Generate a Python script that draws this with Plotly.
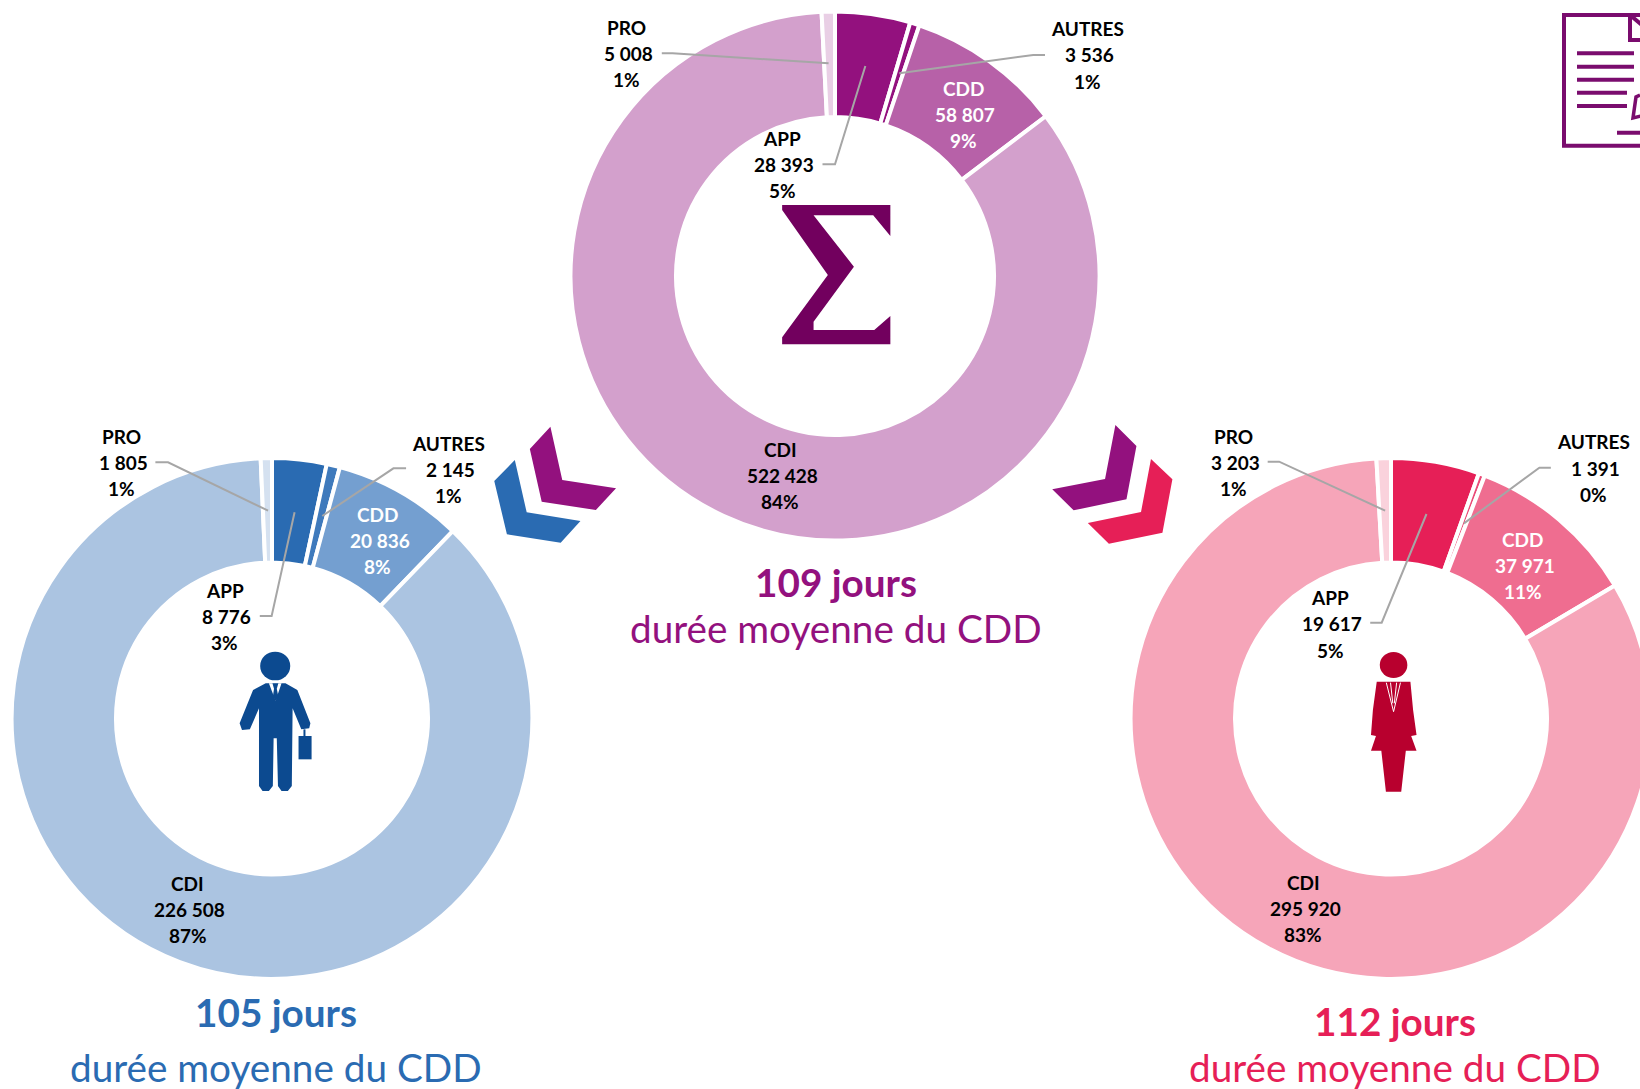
import plotly.graph_objects as go

W, H = 1660, 1089

# ---------- data ----------
categories = ["APP", "AUTRES", "CDD", "CDI", "PRO"]
total_values = [28393, 3536, 58807, 522428, 5008]
total_pct = ["5%", "1%", "9%", "84%", "1%"]
men_values = [8776, 2145, 20836, 226508, 1805]
men_pct = ["3%", "1%", "8%", "87%", "1%"]
women_values = [19617, 1391, 37971, 295920, 3203]
women_pct = ["5%", "0%", "11%", "83%", "1%"]
heading_days = ["109 jours", "105 jours", "112 jours"]
heading_sub = "durée moyenne du CDD"

# ---------- styles ----------
PURPLE = "#93117E"
BLUE = "#2A6BB2"
PINK = "#E61F57"
total_colors = [PURPLE, "#93117E", "#B761A8", "#D3A0CC", "#E9CFE5"]
men_colors = [BLUE, "#3F7ABC", "#749FD0", "#ABC4E1", "#D5E1F0"]
women_colors = [PINK, "#EA4A77", "#EF6D90", "#F6A5B9", "#FAD2DC"]
FONT = "Lato"
GREY = "#A6A6A6"
LINE = 4
LEADING = 26.1


def px(x, y):
    return x / W, 1 - y / H


def poly(points, close=True):
    parts = []
    for i, (x, y) in enumerate(points):
        a, b = px(x, y)
        parts.append(("M" if i == 0 else "L") + f"{a:.5f},{b:.5f}")
    return " ".join(parts) + (" Z" if close else "")


def zoomed(points, sx, ox, oy):
    return [(p[0] / sx + ox, p[1] / 3 + oy) for p in points]


fig = go.Figure()


def donut(values, colors, cx, cy, R, R_in):
    r = R + LINE / 2
    x0, y1 = px(cx - r, cy - r)
    x1, y0 = px(cx + r, cy + r)
    fig.add_trace(go.Pie(
        labels=categories, values=values, sort=False, direction="clockwise",
        rotation=0, hole=(R_in - LINE / 2) / r, textinfo="none", showlegend=False,
        domain=dict(x=[x0, x1], y=[y0, y1]),
        marker=dict(colors=colors, line=dict(color="white", width=LINE)),
    ))


donut(total_values, total_colors, 835, 276, 262.5, 161)
donut(men_values, men_colors, 272, 718.5, 258.4, 158)
donut(women_values, women_colors, 1391, 718.5, 258.4, 158)

annotations = []
shapes = []


def text(x, y, s, color="black", size=19, bold=True):
    a, b = px(x, y)
    annotations.append(dict(
        x=a, y=b, xref="paper", yref="paper", text=s, showarrow=False,
        xanchor="center", yanchor="middle", align="center",
        font=dict(family=FONT, size=size, color=color, weight=700 if bold else 400),
    ))


def labels(values, pct, pos):
    for i, c in enumerate(categories):
        v = f"{values[i]:,}".replace(",", " ")
        col = "white" if c == "CDD" else "black"
        x, y = pos[c]
        text(x, y - LEADING - 0.5, c, col)
        text(x + 2, y - 0.5, v, col)
        text(x, y + LEADING - 0.5, pct[i], col)


S = 1640 / 1568
labels(total_values, total_pct, {
    "PRO": (599 * S, 52 * S), "AUTRES": (1040 * S, 53 * S), "APP": (748 * S, 158 * S),
    "CDD": (921 * S, 110 * S), "CDI": (746 * S, 455 * S)})
labels(men_values, men_pct, {
    "PRO": (116 * S, 443 * S), "AUTRES": (429 * S, 449 * S), "APP": (215 * S, 590 * S),
    "CDD": (361 * S, 517 * S), "CDI": (179.5 * S, 870 * S)})
labels(women_values, women_pct, {
    "PRO": (1179 * S, 443 * S), "AUTRES": (1524 * S, 448 * S), "APP": (1272 * S, 597 * S),
    "CDD": (1456 * S, 541 * S), "CDI": (1246 * S, 869 * S)})

text(799 * S, 556 * S, heading_days[0], PURPLE, 38.7)
text(799 * S, 600 * S, heading_sub, PURPLE, 38.7, False)
text(264 * S, 968 * S, heading_days[1], BLUE, 38.7)
text(264 * S, 1020 * S, heading_sub, BLUE, 38.7, False)
text(1334 * S, 976 * S, heading_days[2], PINK, 38.7)
text(1334 * S, 1020 * S, heading_sub, PINK, 38.7, False)


def fill(points, color):
    shapes.append(dict(type="path", xref="paper", yref="paper", layer="above",
                       path=poly(points), fillcolor=color, line=dict(width=0)))


def stroke(points, color, width):
    shapes.append(dict(type="path", xref="paper", yref="paper", layer="above",
                       path=poly(points, close=False), line=dict(color=color, width=width)))


def ellipse(cx, cy, rx, ry, color):
    a0, b1 = px(cx - rx, cy - ry)
    a1, b0 = px(cx + rx, cy + ry)
    shapes.append(dict(type="circle", xref="paper", yref="paper", layer="above",
                       x0=a0, x1=a1, y0=b0, y1=b1, fillcolor=color, line=dict(width=0)))


SC = 2.8
SL = 1568 / 620
SR = 1568 / 600

# leader lines
for pts in ([(285, 160), (315, 160), (752, 190)], [(1358, 165), (1325, 165), (950, 220)],
            [(735, 493), (770, 493), (855, 198)]):
    stroke(zoomed(pts, SC, 560, 0), GREY, 2)
for pts in ([(393, 157), (425, 157), (678, 302)], [(1027, 175), (995, 175), (815, 318)],
            [(657, 618), (687, 618), (745, 307)]):
    stroke(zoomed(pts, SL, 0, 410), GREY, 2)
for pts in ([(595, 155), (625, 155), (902, 302)], [(1335, 173), (1305, 173), (1108, 340)],
            [(863, 638), (893, 638), (1010, 312)]):
    stroke(zoomed(pts, SR, 1040, 410), GREY, 2)

# sigma
fill(zoomed([(622, 615), (925, 615), (925, 708), (877, 646), (710, 646), (823, 800),
             (710, 965), (710, 990), (880, 990), (925, 948), (925, 1033), (622, 1033),
             (622, 1012), (750, 825), (622, 630)], SC, 560, 0), "#72005E")

# chevrons
fill(zoomed([(1392, 50), (1422, 210), (1558, 235), (1507, 300), (1370, 275), (1340, 117)], SL, 0, 410), PURPLE)
fill(zoomed([(1302, 150), (1332, 307), (1468, 333), (1418, 398), (1282, 373), (1250, 213)], SL, 0, 410), BLUE)
fill(zoomed([(197, 45), (252, 108), (226, 268), (88, 301), (32, 238), (170, 207)], SR, 1040, 410), PURPLE)
fill(zoomed([(290, 147), (346, 208), (320, 368), (180, 401), (125, 339), (264, 306)], SR, 1040, 410), PINK)

# man icon
NAVY = "#0C4A90"
ellipse(696 / SL, 410 + 768 / 3, 38 / SL, 43 / 3, NAVY)
fill(zoomed([(672, 820), (722, 820), (752, 840), (785, 940), (782, 955), (762, 958), (740, 895),
             (738, 1128), (728, 1143), (712, 1143), (703, 1128), (700, 985), (692, 985),
             (690, 1128), (680, 1143), (664, 1143), (655, 1128), (655, 895), (632, 958),
             (612, 960), (606, 940), (640, 840)], SL, 0, 410), NAVY)
fill(zoomed([(755, 978), (788, 978), (788, 1048), (755, 1048)], SL, 0, 410), NAVY)
stroke(zoomed([(770, 958), (770, 980)], SL, 0, 410), NAVY, 2)
fill(zoomed([(680, 820), (712, 820), (697, 872)], SL, 0, 410), "white")
fill(zoomed([(689, 820), (704, 820), (700, 836), (704, 860), (697, 872), (690, 860), (693, 836)], SL, 0, 410), NAVY)

# woman icon
CRIMSON = "#B8002E"
ellipse(924 / SR + 1040, 410 + 765 / 3, 36 / SR, 39 / 3, CRIMSON)
fill(zoomed([(880, 815), (968, 815), (975, 900), (984, 975), (970, 978), (984, 1022), (956, 1022),
             (944, 1145), (904, 1145), (892, 1022), (865, 1022), (878, 978), (865, 975),
             (870, 900)], SR, 1040, 410), CRIMSON)
stroke(zoomed([(905, 818), (924, 905), (942, 818)], SR, 1040, 410), "white", 1)
stroke(zoomed([(916, 818), (922, 880)], SR, 1040, 410), "white", 1)
stroke(zoomed([(932, 818), (926, 880)], SR, 1040, 410), "white", 1)

# document icon
DOC = "#7A0C6E"
stroke([(1700, 15), (1630, 15), (1564, 15), (1564, 145.7), (1700, 145.7)], DOC, 4)
stroke([(1630, 15), (1630, 40), (1700, 40)], DOC, 4)
stroke([(1630, 15), (1660, 40)], DOC, 4)
for yy, xe in ((53.3, 1634), (66.7, 1634), (79.7, 1634), (92.7, 1627), (106, 1627)):
    stroke([(1577, yy), (xe, yy)], DOC, 4)
stroke([(1617, 132.7), (1700, 132.7)], DOC, 4)
stroke([(1640, 95), (1636, 97), (1633, 118), (1645, 115)], DOC, 3.5)

fig.update_layout(
    width=W, height=H, margin=dict(l=0, r=0, t=0, b=0, pad=0),
    paper_bgcolor="white", plot_bgcolor="white",
    annotations=annotations, shapes=shapes,
)

fig.write_html(
    "out.html",
    config=dict(displayModeBar=False),
    post_script="document.documentElement.style.overflow='hidden';"
                "document.body.style.overflow='hidden';document.body.style.margin='0';",
)
